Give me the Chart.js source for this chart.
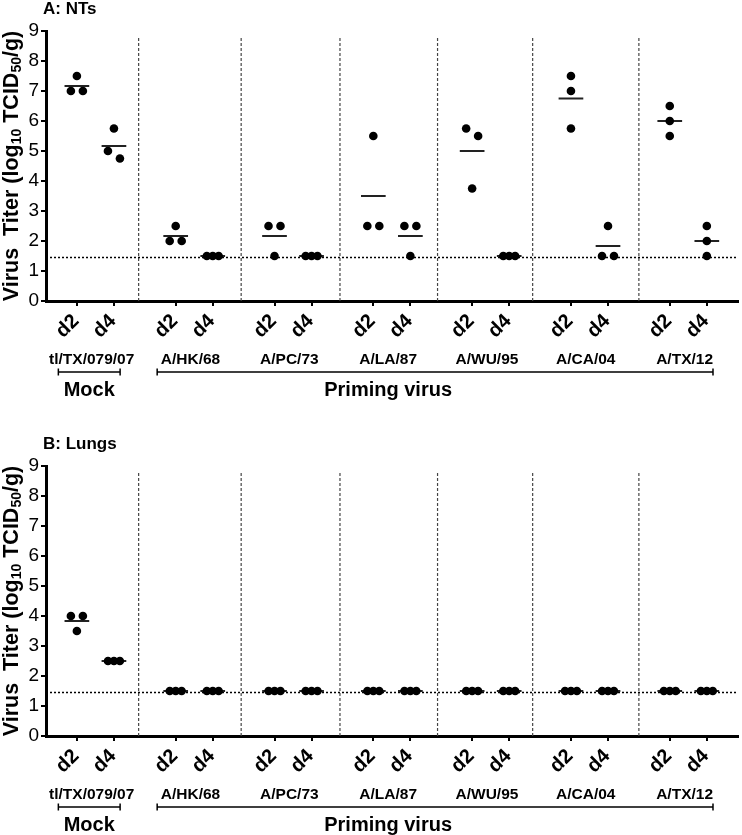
<!DOCTYPE html>
<html>
<head>
<meta charset="utf-8">
<script src="https://cdn.jsdelivr.net/npm/chart.js@4.4.1/dist/chart.umd.min.js"></script>
<style>
  body { margin: 0; background: #fff; }
  canvas { position: absolute; left: 0; }
  #chartA { top: 0; }
  #chartB { top: 435px; }
</style>
</head>
<body>
<canvas id="chartA" width="742" height="435"></canvas>
<canvas id="chartB" width="742" height="400"></canvas>
<script>
// viruses and days
const groups = ['tl/TX/079/07', 'A/HK/68', 'A/PC/73', 'A/LA/87', 'A/WU/95', 'A/CA/04', 'A/TX/12'];
const dayLabels = ['d2', 'd4'];
const groupTitles = ['Mock', 'Priming virus'];

// A: nasal turbinates, three animals per column (d2, d4 for each virus)
const ntValues = [
  [7.5, 7, 7], [5.75, 5, 4.75],
  [2.5, 2, 2], [1.5, 1.5, 1.5],
  [2.5, 2.5, 1.5], [1.5, 1.5, 1.5],
  [5.5, 2.5, 2.5], [2.5, 2.5, 1.5],
  [5.75, 5.5, 3.75], [1.5, 1.5, 1.5],
  [7.5, 7, 5.75], [2.5, 1.5, 1.5],
  [6.5, 6, 5.5], [2.5, 2, 1.5]
];
const ntMeans = [7.17, 5.17, 2.17, 1.5, 2.17, 1.5, 3.5, 2.17, 5.0, 1.5, 6.75, 1.83, 6.0, 2.0];

// B: lungs
const lungValues = [
  [4, 4, 3.5], [2.5, 2.5, 2.5],
  [1.5, 1.5, 1.5], [1.5, 1.5, 1.5],
  [1.5, 1.5, 1.5], [1.5, 1.5, 1.5],
  [1.5, 1.5, 1.5], [1.5, 1.5, 1.5],
  [1.5, 1.5, 1.5], [1.5, 1.5, 1.5],
  [1.5, 1.5, 1.5], [1.5, 1.5, 1.5],
  [1.5, 1.5, 1.5], [1.5, 1.5, 1.5]
];
const lungMeans = [3.83, 2.5, 1.5, 1.5, 1.5, 1.5, 1.5, 1.5, 1.5, 1.5, 1.5, 1.5, 1.5, 1.5];

const detectionLimit = 1.45;
const separators = [7.5, 15.8, 23.8, 31.7, 39.4, 48.0];

const FAM = "'Liberation Sans', Arial, sans-serif";
Chart.defaults.font.family = FAM;

// x position of a column on the linear axis
function colPos(i) {
  return 8 * Math.floor(i / 2) + 2.5 + 3 * (i % 2);
}

// spread dots with (nearly) equal values side by side
function scatterPoints(values) {
  const pts = [];
  values.forEach((col, i) => {
    const x0 = colPos(i);
    const sorted = [...col].sort((a, b) => b - a);
    let k = 0;
    while (k < sorted.length) {
      let j = k;
      while (j + 1 < sorted.length && sorted[k] - sorted[j + 1] < 0.3) j++;
      const n = j - k + 1;
      const step = n === 2 ? 0.97 : 0.48;
      for (let m = 0; m < n; m++) {
        pts.push({ x: x0 + (m - (n - 1) / 2) * step, y: sorted[k + m] });
      }
      k = j + 1;
    }
  });
  return pts;
}

function meanSegments(means) {
  const pts = [];
  means.forEach((m, i) => {
    const x0 = colPos(i);
    pts.push({ x: x0 - 1, y: m }, { x: x0 + 1, y: m }, { x: x0, y: null });
  });
  return pts;
}

function separatorSegments() {
  const pts = [];
  separators.forEach(s => pts.push({ x: s, y: 0 }, { x: s, y: 8.82 }, { x: s, y: null }));
  return pts;
}

const annotate = {
  id: 'annotate',
  afterDraw(chart, args, opts) {
    const { ctx, chartArea: a } = chart;
    const x = chart.scales.x;
    ctx.save();
    ctx.fillStyle = '#000';
    ctx.strokeStyle = '#000';

    // panel title
    ctx.font = 'bold 17px ' + FAM;
    ctx.textAlign = 'left';
    ctx.textBaseline = 'middle';
    ctx.fillText(opts.title, 43, 9);

    // day labels, rotated 45 degrees under each tick
    ctx.font = 'bold 20px ' + FAM;
    ctx.textAlign = 'right';
    x.ticks.forEach((t, i) => {
      ctx.save();
      ctx.translate(x.getPixelForValue(t.value) - 1, a.bottom + 17);
      ctx.rotate(-Math.PI / 4);
      ctx.fillText(dayLabels[i % 2], 0, 0);
      ctx.restore();
    });

    // virus names
    ctx.font = 'bold 15.5px ' + FAM;
    ctx.textAlign = 'center';
    groups.forEach((g, i) => {
      ctx.fillText(g, x.getPixelForValue(8 * i + 3.7), a.bottom + 59);
    });

    // brackets
    ctx.lineWidth = 1.5;
    const by = a.bottom + 71;
    [[colPos(0) - 1.5, colPos(1) + 0.5], [colPos(2) - 1.5, colPos(13) + 0.5]].forEach(([s, e]) => {
      const x1 = x.getPixelForValue(s), x2 = x.getPixelForValue(e);
      ctx.beginPath();
      ctx.moveTo(x1, by); ctx.lineTo(x2, by);
      ctx.moveTo(x1, by - 3.5); ctx.lineTo(x1, by + 3.5);
      ctx.moveTo(x2, by - 3.5); ctx.lineTo(x2, by + 3.5);
      ctx.stroke();
    });
    ctx.font = 'bold 20px ' + FAM;
    ctx.fillText(groupTitles[0], x.getPixelForValue(3.5), a.bottom + 89);
    ctx.fillText(groupTitles[1], x.getPixelForValue(27.7), a.bottom + 89);

    // y axis title with subscripts
    const parts = [['Virus  Titer (log', false], ['10', true], [' TCID', false], ['50', true], ['/g)', false]];
    const big = 'bold 21.5px ' + FAM, small = 'bold 14px ' + FAM;
    let total = 0;
    parts.forEach(([t, sub]) => { ctx.font = sub ? small : big; total += ctx.measureText(t).width; });
    ctx.translate(10, (a.top + a.bottom) / 2);
    ctx.rotate(-Math.PI / 2);
    ctx.textAlign = 'left';
    ctx.textBaseline = 'alphabetic';
    let cx = -total / 2;
    parts.forEach(([t, sub]) => {
      ctx.font = sub ? small : big;
      ctx.fillText(t, cx, sub ? 11 : 7.5);
      cx += ctx.measureText(t).width;
    });
    ctx.restore();
  }
};

function makeChart(id, title, values, means, axisHeight) {
  const tickPositions = values.map((v, i) => colPos(i));
  return new Chart(document.getElementById(id), {
    type: 'scatter',
    data: {
      datasets: [
        {
          data: scatterPoints(values),
          backgroundColor: '#000',
          borderColor: '#000',
          pointRadius: 4.3,
          pointBorderWidth: 0,
          order: 0
        },
        {
          data: meanSegments(means),
          showLine: true,
          spanGaps: false,
          borderColor: '#222',
          borderWidth: 2,
          pointRadius: 0,
          order: 1
        },
        {
          data: [{ x: 0, y: detectionLimit }, { x: 56, y: detectionLimit }],
          showLine: true,
          borderColor: '#000',
          borderWidth: 1.5,
          borderDash: [2, 2],
          pointRadius: 0,
          order: 2
        },
        {
          data: separatorSegments(),
          showLine: true,
          spanGaps: false,
          borderColor: '#444',
          borderWidth: 1.2,
          borderDash: [3, 2],
          pointRadius: 0,
          order: 3
        }
      ]
    },
    options: {
      responsive: false,
      animation: false,
      layout: { padding: { top: 31, right: 2, left: 0, bottom: 0 } },
      plugins: {
        legend: { display: false },
        tooltip: { enabled: false },
        annotate: { title: title }
      },
      scales: {
        x: {
          type: 'linear',
          min: 0,
          max: 56,
          afterBuildTicks: scale => { scale.ticks = tickPositions.map(v => ({ value: v })); },
          afterFit: scale => { scale.height = axisHeight; },
          border: { display: true, color: '#000', width: 3 },
          grid: { drawOnChartArea: false, drawTicks: true, tickLength: 5, color: '#000', lineWidth: 2 },
          ticks: { display: false, autoSkip: false }
        },
        y: {
          min: 0,
          max: 9,
          afterFit: scale => { scale.width = 46; },
          border: { display: true, color: '#000', width: 3 },
          grid: { drawOnChartArea: false, drawTicks: true, tickLength: 5, color: '#000', lineWidth: 2 },
          ticks: { stepSize: 1, padding: 2, color: '#000', font: { size: 19 } }
        }
      }
    },
    plugins: [annotate]
  });
}

makeChart('chartA', 'A: NTs', ntValues, ntMeans, 134);
makeChart('chartB', 'B: Lungs', lungValues, lungMeans, 99);
</script>
</body>
</html>
